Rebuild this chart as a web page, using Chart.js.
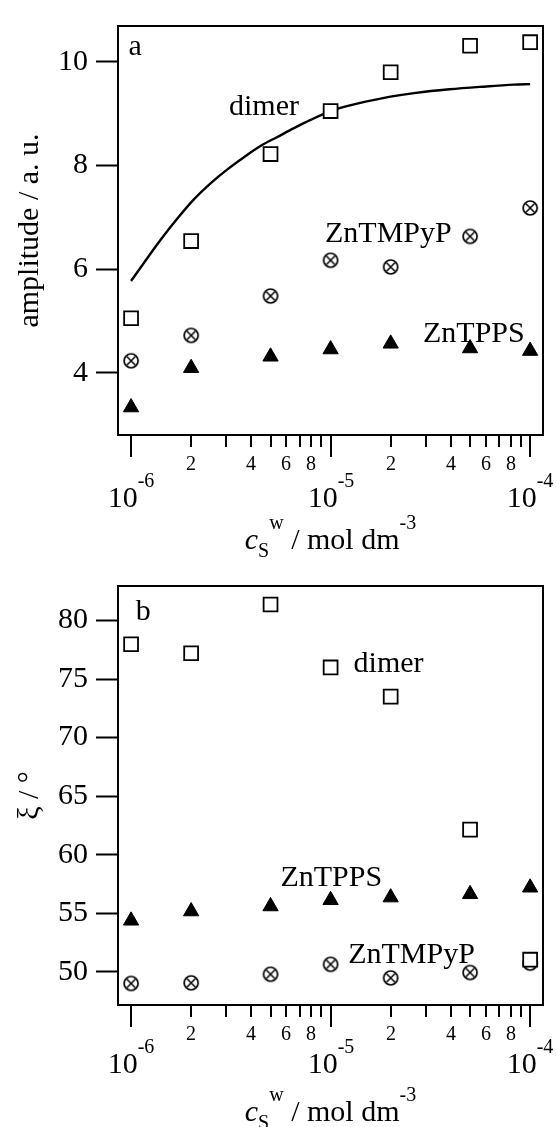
<!DOCTYPE html>
<html>
<head>
<meta charset="utf-8">
<script src="https://cdn.jsdelivr.net/npm/chart.js@4.4.0/dist/chart.umd.min.js"></script>
<style>
  html, body { margin: 0; padding: 0; background: #fff; }
  #wrap { position: relative; width: 557px; height: 1127px; overflow: hidden; background: #fff; }
  canvas { position: absolute; left: 0; }
  #chartA { top: 0; }
  #chartB { top: 560px; }
</style>
</head>
<body>
<div id="wrap">
  <canvas id="chartA" width="557" height="570"></canvas>
  <canvas id="chartB" width="557" height="567"></canvas>
</div>
<script>
// surfactant concentration in water, mol dm^-3
var concentration = [1e-6, 2e-6, 5e-6, 1e-5, 2e-5, 5e-5, 1e-4];

// (a) amplitude
var ampDimer = [5.05, 6.54, 8.22, 9.05, 9.80, 10.31, 10.38];
var ampZnTMPyP = [4.23, 4.72, 5.48, 6.17, 6.04, 6.63, 7.18];
var ampZnTPPS = [3.33, 4.09, 4.31, 4.45, 4.56, 4.47, 4.42];

// fitted curve for the dimer amplitude
var fitConc = [1.0e-6, 1.165e-6, 1.41e-6, 1.71e-6, 2.07e-6, 2.51e-6, 3.05e-6, 3.68e-6, 4.47e-6,
  5.41e-6, 6.55e-6, 7.94e-6, 1.0e-5, 1.25e-5, 1.83e-5, 2.68e-5, 3.94e-5, 5.77e-5, 8.32e-5, 1.0e-4];
var fitAmp = [5.77, 6.13, 6.57, 6.98, 7.35, 7.66, 7.93, 8.16, 8.38,
  8.55, 8.72, 8.88, 9.05, 9.16, 9.30, 9.40, 9.47, 9.52, 9.56, 9.57];

// (b) angle xi
var xiDimer = [77.97, 77.2, 81.36, 75.99, 73.5, 62.15, 51.05];
var xiZnTPPS = [54.38, 55.17, 55.6, 56.13, 56.36, 56.64, 57.2];
var xiZnTMPyP = [49.02, 49.07, 49.8, 50.65, 49.49, 49.95, 50.75];

var ampTicks = [4, 6, 8, 10];
var xiTicks = [50, 55, 60, 65, 70, 75, 80];
var decadeExponents = ['-6', '-5', '-4'];
var minorTickLabels = { 2: '2', 4: '4', 6: '6', 8: '8' };

var serif = '"Liberation Serif", "Times New Roman", serif';
Chart.defaults.font.family = serif;
Chart.defaults.color = '#000';

function pts(xs, ys) {
  return xs.map(function (x, i) { return { x: x, y: ys[i] }; });
}

// open circle with a diagonal cross
function circleCross(r) {
  var size = Math.ceil(2 * r + 4);
  var cv = document.createElement('canvas');
  cv.width = size;
  cv.height = size;
  var g = cv.getContext('2d');
  var c = size / 2;
  g.fillStyle = '#fff';
  g.strokeStyle = '#000';
  g.lineWidth = 1.7;
  g.beginPath();
  g.arc(c, c, r, 0, Math.PI * 2);
  g.fill();
  g.stroke();
  var d = r * 0.6;
  g.lineWidth = 1.5;
  g.beginPath();
  g.moveTo(c - d, c - d); g.lineTo(c + d, c + d);
  g.moveTo(c + d, c - d); g.lineTo(c - d, c + d);
  g.stroke();
  return cv;
}
var crossMarker = circleCross(7);

function squares(data) {
  return { data: data, pointStyle: 'rect', pointRadius: 9.8, borderWidth: 1.8,
    borderColor: '#000', backgroundColor: '#fff' };
}
function triangles(data) {
  return { data: data, pointStyle: 'triangle', pointRadius: 8.8, borderWidth: 1,
    borderColor: '#000', backgroundColor: '#000' };
}
function crosses(data) {
  return { data: data, pointStyle: crossMarker, pointRadius: 7 };
}

// draws the frame, the log x axis, its title and the text labels
var panelDecor = {
  id: 'panelDecor',
  afterDraw: function (chart, args, opts) {
    var ctx = chart.ctx;
    var area = chart.chartArea;
    var xs = chart.scales.x;
    ctx.save();
    ctx.strokeStyle = '#000';
    ctx.fillStyle = '#000';
    ctx.lineWidth = 2;
    ctx.strokeRect(area.left, area.top, area.right - area.left, area.bottom - area.top);

    decadeExponents.forEach(function (exp) {
      var e = Number(exp);
      for (var m = 1; m <= 9; m++) {
        var v = m * Math.pow(10, e);
        if (v < xs.min || v > xs.max) continue;
        var px = Math.round(xs.getPixelForValue(v));
        var len = m === 1 ? 22 : 12;
        ctx.beginPath();
        ctx.moveTo(px, area.bottom);
        ctx.lineTo(px, area.bottom + len);
        ctx.stroke();
        ctx.textBaseline = 'alphabetic';
        if (minorTickLabels[m]) {
          ctx.font = '20px ' + serif;
          ctx.textAlign = 'center';
          ctx.fillText(minorTickLabels[m], px, area.bottom + 35);
        }
        if (m === 1) {
          ctx.font = '30px ' + serif;
          var w1 = ctx.measureText('10').width;
          ctx.font = '20px ' + serif;
          var w2 = ctx.measureText(exp).width;
          var x0 = px - (w1 + w2) / 2;
          ctx.textAlign = 'left';
          ctx.font = '30px ' + serif;
          ctx.fillText('10', x0, area.bottom + opts.majorBase);
          ctx.font = '20px ' + serif;
          ctx.fillText(exp, x0 + w1, area.bottom + opts.majorBase - 20);
        }
      }
    });

    // c_S^w / mol dm^-3
    var parts = [
      { t: 'c', f: 'italic 30px ', dy: 0 },
      { t: 'S', f: '20px ', dy: 8 },
      { t: 'w', f: '20px ', dy: -20 },
      { t: ' / mol dm', f: '30px ', dy: 0 },
      { t: '-3', f: '20px ', dy: -20 }
    ];
    var total = 0;
    parts.forEach(function (p) {
      ctx.font = p.f + serif;
      p.w = ctx.measureText(p.t).width;
      total += p.w;
    });
    var tx = (area.left + area.right) / 2 - total / 2;
    var ty = area.bottom + opts.titleBase;
    ctx.textAlign = 'left';
    parts.forEach(function (p) {
      ctx.font = p.f + serif;
      ctx.fillText(p.t, tx, ty + p.dy);
      tx += p.w;
    });

    ctx.font = '30px ' + serif;
    opts.labels.forEach(function (l) {
      ctx.fillText(l.text, area.left + l.dx, area.top + l.dy);
    });
    ctx.restore();
  }
};

function makeChart(id, cfg) {
  return new Chart(document.getElementById(id), {
    type: 'scatter',
    data: { datasets: cfg.datasets },
    options: {
      responsive: false,
      animation: false,
      events: [],
      layout: { padding: { top: cfg.top, right: 14, left: 0, bottom: 0 } },
      plugins: {
        legend: { display: false },
        tooltip: { enabled: false },
        panelDecor: { labels: cfg.labels, majorBase: cfg.majorBase, titleBase: cfg.titleBase }
      },
      scales: {
        x: {
          type: 'logarithmic',
          min: 8.6e-7,
          max: 1.16e-4,
          grid: { display: false },
          border: { display: false },
          ticks: { display: false },
          afterFit: function (s) { s.height = cfg.xHeight; }
        },
        y: {
          type: 'linear',
          min: cfg.yMin,
          max: cfg.yMax,
          afterBuildTicks: function (s) {
            s.ticks = cfg.yTicks.map(function (v) { return { value: v }; });
          },
          ticks: { font: { size: 30 }, color: '#000', padding: 8 },
          grid: { drawOnChartArea: false, tickLength: 22, tickWidth: 2, tickColor: '#000' },
          border: { display: false },
          title: { display: true, text: cfg.yTitle, font: { size: 30 }, color: '#000', padding: { top: 12, bottom: 0 } },
          afterFit: function (s) { s.width = 118; }
        }
      }
    },
    plugins: [panelDecor]
  });
}

makeChart('chartA', {
  top: 13,
  xHeight: 135,
  yMin: 2.797,
  yMax: 10.692,
  yTicks: ampTicks,
  yTitle: 'amplitude / a. u.',
  majorBase: 72,
  titleBase: 114,
  datasets: [
    squares(pts(concentration, ampDimer)),
    { data: pts(fitConc, fitAmp), showLine: true, pointRadius: 0, borderColor: '#000',
      borderWidth: 2.4, cubicInterpolationMode: 'monotone' },
    crosses(pts(concentration, ampZnTMPyP)),
    triangles(pts(concentration, ampZnTPPS))
  ],
  labels: [
    { text: 'a', dx: 10.6, dy: 29 },
    { text: 'dimer', dx: 111, dy: 88.7 },
    { text: 'ZnTMPyP', dx: 207, dy: 216 },
    { text: 'ZnTPPS', dx: 305, dy: 316 }
  ]
});

makeChart('chartB', {
  top: 23,
  xHeight: 122,
  yMin: 47.18,
  yMax: 82.94,
  yTicks: xiTicks,
  yTitle: 'ξ / °',
  majorBase: 68,
  titleBase: 116,
  datasets: [
    squares(pts(concentration, xiDimer)),
    crosses(pts(concentration, xiZnTMPyP)),
    triangles(pts(concentration, xiZnTPPS))
  ],
  labels: [
    { text: 'b', dx: 17.7, dy: 34 },
    { text: 'dimer', dx: 235.6, dy: 85.6 },
    { text: 'ZnTPPS', dx: 162.4, dy: 299.6 },
    { text: 'ZnTMPyP', dx: 230.2, dy: 376.6 }
  ]
});
</script>
</body>
</html>
